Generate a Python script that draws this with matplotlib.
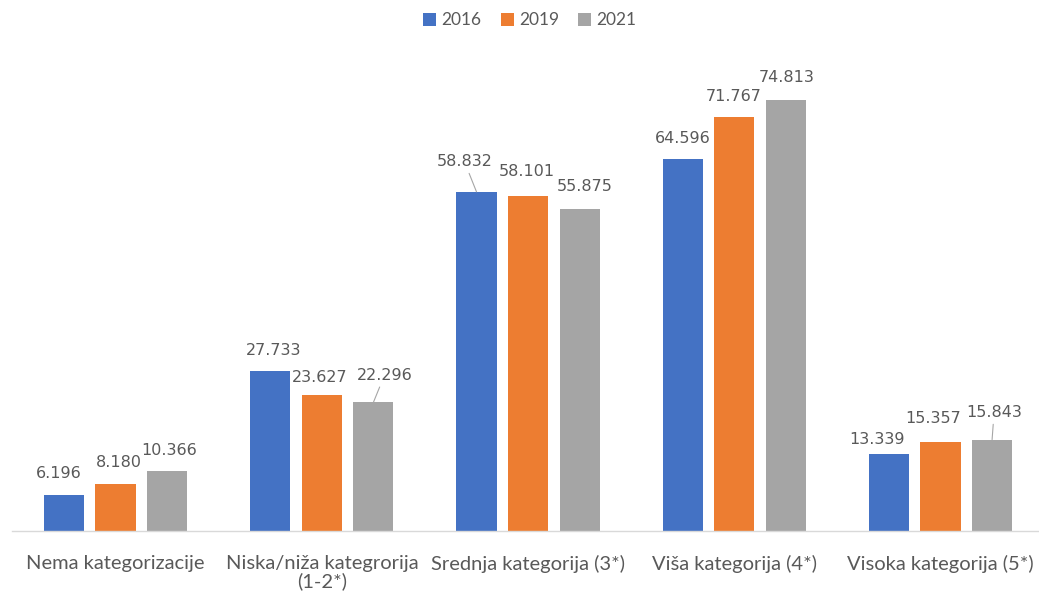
"""
Broj smještajnih jedinica po kategoriji, 2016 / 2019 / 2021
Grouped bar chart with Excel-like styling.
"""

import numpy as np
import matplotlib.pyplot as plt

# Data
categories = ['Nema kategorizacije', 'Niska/niža kategrorija\n(1-2*)',
              'Srednja kategorija (3*)', 'Viša kategorija (4*)',
              'Visoka kategorija (5*)']
years = ['2016', '2019', '2021']
values_2016 = [6.196, 27.733, 58.832, 64.596, 13.339]
values_2019 = [8.180, 23.627, 58.101, 71.767, 15.357]
values_2021 = [10.366, 22.296, 55.875, 74.813, 15.843]
value_labels_2016 = ['6.196', '27.733', '58.832', '64.596', '13.339']
value_labels_2019 = ['8.180', '23.627', '58.101', '71.767', '15.357']
value_labels_2021 = ['10.366', '22.296', '55.875', '74.813', '15.843']

# Styling
colors = ['#4472C4', '#ED7D31', '#A5A5A5']
text_color = '#595959'
bar_width = 0.195
stride = 0.25

# label offsets in pixels (dx, dy) per series / category, like Excel moved them
label_offsets = [
    [(-5, 22), (3, 21), (-12, 30), (0, 20), (-12, 15)],
    [(3, 21), (-2, 17), (-1, 25), (-1, 21), (-7, 24)],
    [(2, 21), (11, 27), (5, 22), (1, 22), (2, 27)],
]
# labels that get a leader line (series, category)
leader_lines = {(0, 2), (2, 1), (2, 4)}

fig = plt.figure(figsize=(10.39, 5.97), dpi=100)
ax = fig.add_axes([0.012, 0.1106, 0.9885, 0.8208])

x = np.arange(len(categories))
series = [values_2016, values_2019, values_2021]
labels = [value_labels_2016, value_labels_2019, value_labels_2021]

for i, (vals, lbls) in enumerate(zip(series, labels)):
    pos = x + (i - 1) * stride
    ax.bar(pos, vals, width=bar_width, color=colors[i], label=years[i], zorder=2)
    for j, (p, v, t) in enumerate(zip(pos, vals, lbls)):
        dx, dy = label_offsets[i][j]
        arrow = None
        if (i, j) in leader_lines:
            arrow = dict(arrowstyle='-', color='#A6A6A6', lw=0.8,
                         shrinkA=1, shrinkB=0)
        ax.annotate(t, xy=(p, v), xytext=(dx, dy), textcoords='offset pixels',
                    ha='center', va='center', fontsize=11.5, color=text_color,
                    family='DejaVu Sans', arrowprops=arrow)

ax.set_xlim(-0.5, 4.48)
ax.set_ylim(0, 85)
ax.set_xticks(x)
ax.set_xticklabels(categories, fontsize=14.5, color=text_color, family='Lato',
                   linespacing=1.05)
ax.tick_params(axis='x', length=0, pad=17)
ax.set_yticks([])
for side in ['top', 'right', 'left']:
    ax.spines[side].set_visible(False)
ax.spines['bottom'].set_color('#D9D9D9')
ax.spines['bottom'].set_linewidth(1.0)

fig.legend(loc='center', bbox_to_anchor=(0.51, 0.966), ncol=3, frameon=False,
           handlelength=0.75, handleheight=0.75, handletextpad=0.3,
           columnspacing=1.1, prop={'family': 'Lato', 'size': 12.5},
           labelcolor=text_color)

fig.savefig('out.png', dpi=100)
